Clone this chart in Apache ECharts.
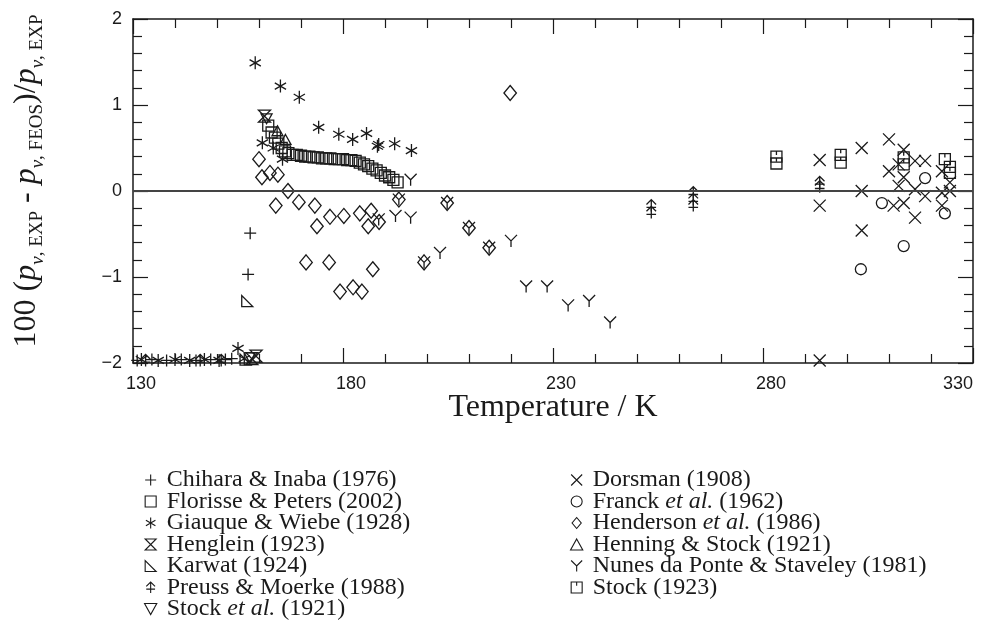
<!DOCTYPE html>
<html>
<head>
<meta charset="utf-8">
<script src="https://cdn.jsdelivr.net/npm/echarts@6/dist/echarts.min.js"></script>
<style>html,body{margin:0;padding:0;background:#fff;}#c{width:995px;height:625px;}</style>
</head>
<body>
<div id="c"></div>
<script>
// ---- data: [Temperature / K, 100 (p_exp - p_feos)/p_exp] ----
const chiharaInaba = [[157.9,-0.49],[157.4,-0.97],[131.0,-1.97],[134.5,-1.96],[138.0,-1.97],[141.5,-1.96],[145.0,-1.97],[148.5,-1.96],[152.0,-1.96],[153.5,-1.95]];
const florissePeters = [[162.2,0.76],[163.0,0.68],[163.8,0.62],[164.6,0.55],[165.4,0.50],[166.2,0.46],[167.0,0.44],[168.0,0.42],[169.0,0.42],[170.0,0.41],[171.0,0.40],[172.0,0.40],[173.0,0.39],[174.0,0.39],[175.0,0.38],[176.0,0.38],[177.0,0.38],[178.0,0.37],[179.0,0.37],[180.0,0.37],[181.0,0.36],[182.0,0.36],[183.0,0.35],[184.0,0.33],[185.0,0.31],[186.0,0.29],[187.0,0.26],[188.0,0.24],[189.0,0.21],[190.0,0.18],[191.0,0.16],[192.0,0.13],[193.0,0.10]];
const giauqueWiebe = [[159.1,1.49],[165.1,1.22],[169.6,1.09],[174.2,0.74],[179.0,0.66],[182.3,0.60],[185.6,0.67],[188.2,0.52],[188.5,0.54],[192.3,0.55],[196.3,0.47],[160.8,0.56],[163.4,0.50],[165.6,0.37],[155.0,-1.83],[132.0,-1.96],[136.0,-1.97],[140.0,-1.96],[143.5,-1.97],[147.0,-1.96],[150.5,-1.97],[156.5,-1.95]];
const henglein = [[161.3,0.87],[159.3,-1.92],[158.3,-1.95]];
const karwat = [[157.2,-1.28],[156.8,-1.96]];
const preussMoerke = [[253.4,-0.17],[253.4,-0.25],[263.4,-0.02],[263.4,-0.10],[263.4,-0.17],[293.5,0.10],[293.5,0.05],[133.0,-1.97],[146.0,-1.97],[151.0,-1.97]];
const stockEtAl = [[161.8,0.84],[157.8,-1.94]];
const dorsman = [[293.5,0.36],[293.5,-0.17],[303.5,0.50],[303.5,0.00],[303.5,-0.46],[310.0,0.60],[310.0,0.23],[313.5,0.48],[312.3,0.31],[313.5,0.16],[312.3,0.06],[311.1,-0.17],[313.5,-0.14],[316.2,0.35],[318.6,0.35],[316.2,0.02],[318.6,-0.06],[316.2,-0.31],[322.6,0.23],[322.6,-0.02],[322.6,-0.17],[324.5,0.10],[324.5,0.00],[293.5,-1.97]];
const franckEtAl = [[308.3,-0.14],[318.6,0.15],[323.3,-0.26],[313.5,-0.64],[303.3,-0.91]];
const hendersonEtAl = [[160.0,0.37],[160.7,0.16],[162.6,0.21],[164.5,0.19],[164.0,-0.17],[166.9,0.00],[169.5,-0.13],[173.3,-0.17],[173.8,-0.41],[176.9,-0.30],[171.2,-0.83],[176.7,-0.83],[179.3,-1.17],[182.4,-1.12],[184.5,-1.17],[187.1,-0.91],[180.2,-0.29],[184.0,-0.26],[186.7,-0.23],[186.0,-0.41],[188.6,-0.36],[193.3,-0.10],[204.8,-0.14],[210.0,-0.43],[214.8,-0.66],[199.3,-0.83],[219.8,1.14]];
const henningStock = [[164.4,0.70],[166.3,0.60]];
const nunesStaveley = [[196.1,0.13],[192.5,-0.29],[196.1,-0.31],[188.5,-0.33],[193.3,-0.10],[199.3,-0.83],[203.1,-0.72],[204.8,-0.14],[210.0,-0.43],[214.8,-0.66],[220.0,-0.58],[223.6,-1.11],[228.6,-1.11],[233.6,-1.33],[238.6,-1.28],[243.6,-1.53]];
const stock1923 = [[283.2,0.40],[283.2,0.32],[298.5,0.42],[298.5,0.33],[313.5,0.39],[313.5,0.31],[323.3,0.37],[324.5,0.28],[324.5,0.21]];

const xTicks = [130, 180, 230, 280, 330];
const yTicks = [-2, -1, 0, 1, 2];

const SYM = {
  plus: 'path://M5 0L5 10M0 5L10 5',
  square: 'path://M0 0L10 0L10 10L0 10Z',
  star: 'path://M5 0L5 10M0.67 2.5L9.33 7.5M0.67 7.5L9.33 2.5',
  hourglass: 'path://M0 0L10 0L0 10L10 10Z',
  rtri: 'path://M0 0L0 10L10 10Z',
  tree: 'path://M5 0L5 10M1 4L5 0L9 4M1 6.5L9 6.5',
  dtri: 'path://M0 0L10 0L5 9Z',
  cross: 'path://M0 0L10 10M0 10L10 0',
  circle: 'circle',
  diamond: 'path://M5 0L10 6L5 12L0 6Z',
  utri: 'path://M5 0L10 9L0 9Z',
  ypsilon: 'path://M0 0L5 5L10 0M5 5L5 10',
  sqtick: 'path://M0 0L10 0L10 10L0 10ZM5 0L5 3.5'
};

const INK = '#1a1a1a';
function mk(name, data, symbol, size) {
  return {
    name: name, type: 'scatter', data: data, symbol: symbol, symbolSize: size,
    symbolKeepAspect: true, silent: true,
    itemStyle: { color: 'rgba(0,0,0,0)', borderColor: INK, borderWidth: 1.3, opacity: 1 }
  };
}

const seriesList = [
  mk('Chihara & Inaba (1976)', chiharaInaba, SYM.plus, 12),
  mk('Florisse & Peters (2002)', florissePeters, SYM.square, 11),
  mk('Giauque & Wiebe (1928)', giauqueWiebe, SYM.star, 13),
  mk('Henglein (1923)', henglein, SYM.hourglass, 12),
  mk('Karwat (1924)', karwat, SYM.rtri, 11),
  mk('Preuss & Moerke (1988)', preussMoerke, SYM.tree, 12),
  mk('Stock et al. (1921)', stockEtAl, SYM.dtri, 11),
  mk('Dorsman (1908)', dorsman, SYM.cross, 12),
  mk('Franck et al. (1962)', franckEtAl, SYM.circle, 11),
  mk('Henderson et al. (1986)', hendersonEtAl, SYM.diamond, 15),
  mk('Henning & Stock (1921)', henningStock, SYM.utri, 11),
  mk('Nunes da Ponte & Staveley (1981)', nunesStaveley, SYM.ypsilon, 12),
  mk('Stock (1923)', stock1923, SYM.sqtick, 11)
];
seriesList[0].markLine = {
  silent: true, symbol: 'none', label: { show: false },
  lineStyle: { color: '#444', width: 2, type: 'solid' },
  data: [{ yAxis: 0 }]
};

const leftNames = seriesList.slice(0, 7).map(s => s.name);
const rightNames = seriesList.slice(7).map(s => s.name);

const SERIF = '"Liberation Serif", "Times New Roman", serif';
const SANS = '"Liberation Sans", Arial, sans-serif';

function legendOf(names, left) {
  return {
    data: names, orient: 'vertical', left: left, top: 468, padding: 0,
    itemWidth: 22, itemHeight: 11, itemGap: -2.5, selectedMode: false,
    itemStyle: { color: 'rgba(0,0,0,0)', borderColor: INK, borderWidth: 1.1 },
    textStyle: {
      fontFamily: SERIF, fontSize: 24, color: INK, lineHeight: 21.5,
      rich: { i: { fontFamily: SERIF, fontSize: 24, fontStyle: 'italic', color: INK, lineHeight: 21.5 } }
    },
    formatter: function (n) { return n.replace('et al.', '{i|et al.}'); }
  };
}

const axisLineStyle = { color: INK, width: 1.5 };
function xAx(pos, showLabel) {
  return {
    type: 'value', position: pos, min: xTicks[0], max: xTicks[xTicks.length - 1],
    interval: xTicks[1] - xTicks[0],
    axisLine: { show: true, onZero: false, lineStyle: axisLineStyle },
    axisTick: { show: true, inside: true, length: 15, lineStyle: { color: INK, width: 1.2 } },
    minorTick: { show: true, splitNumber: 5, length: 9, lineStyle: { color: INK, width: 1.2 } },
    splitLine: { show: false }, minorSplitLine: { show: false },
    axisLabel: { show: showLabel, fontFamily: SANS, fontSize: 18, color: INK, margin: 12,
      padding: [0, 0, 0, 16], alignMaxLabel: 'right' },
    name: showLabel ? 'Temperature / K' : '', nameLocation: 'middle', nameGap: 29,
    nameMoveOverlap: false,
    nameTextStyle: { fontFamily: SERIF, fontSize: 32, color: INK }
  };
}
function yAx(pos, showLabel) {
  return {
    type: 'value', position: pos, min: yTicks[0], max: yTicks[yTicks.length - 1],
    interval: yTicks[1] - yTicks[0],
    axisLine: { show: true, onZero: false, lineStyle: axisLineStyle },
    axisTick: { show: true, inside: true, length: 15, lineStyle: { color: INK, width: 1.2 } },
    minorTick: { show: true, splitNumber: 5, length: 9, lineStyle: { color: INK, width: 1.2 } },
    splitLine: { show: false }, minorSplitLine: { show: false },
    axisLabel: { show: showLabel, fontFamily: SANS, fontSize: 18, color: INK, margin: 11,
      formatter: v => String(v).replace('-', '\u2212') },
    name: showLabel ? '{n|100 (}{i|p}{si|v}{s|, EXP}{n| - }{i|p}{si|v}{s|, FEOS}{n|)/}{i|p}{si|v}{s|, EXP}' : '',
    nameLocation: 'middle', nameRotate: 90, nameGap: 86,
    nameTextStyle: {
      fontFamily: SERIF, fontSize: 32, color: INK, padding: [0, 0, 0, 20],
      rich: {
        n: { fontFamily: SERIF, fontSize: 32, color: INK, lineHeight: 40 },
        i: { fontFamily: SERIF, fontSize: 32, fontStyle: 'italic', color: INK, lineHeight: 40 },
        si: { fontFamily: SERIF, fontSize: 19, fontStyle: 'italic', color: INK, lineHeight: 19, verticalAlign: 'bottom' },
        s: { fontFamily: SERIF, fontSize: 19, color: INK, lineHeight: 19, verticalAlign: 'bottom' }
      }
    }
  };
}

const chart = echarts.init(document.getElementById('c'), null, { renderer: 'canvas' });
chart.setOption({
  animation: false,
  backgroundColor: '#fff',
  grid: { left: 133, right: 22, top: 19, bottom: 262, containLabel: false },
  xAxis: [xAx('bottom', true), xAx('top', false)],
  yAxis: [yAx('left', true), yAx('right', false)],
  legend: [legendOf(leftNames, 144), legendOf(rightNames, 570)],
  series: seriesList
});
</script>
</body>
</html>
